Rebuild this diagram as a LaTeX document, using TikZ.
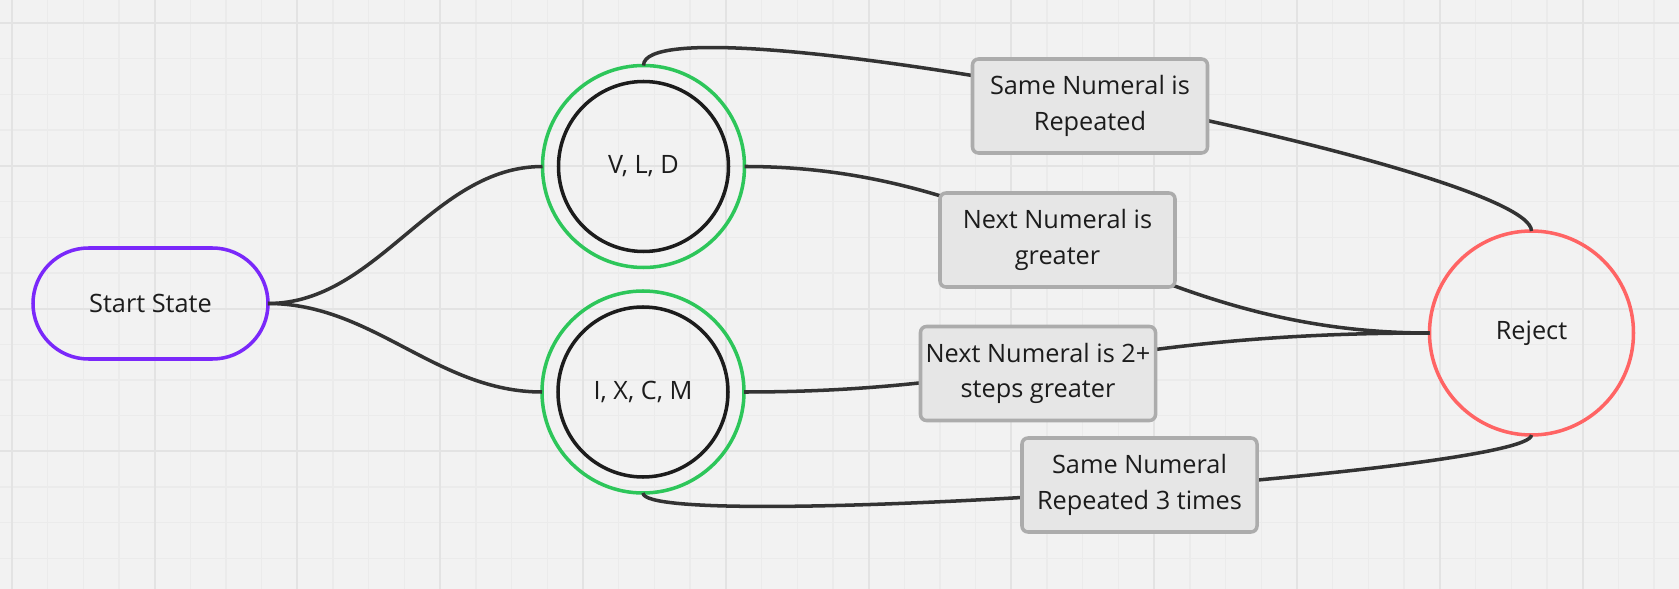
\documentclass[tikz,border=0pt]{standalone}
\usepackage{fontspec}
\setmainfont{Open Sans}

\definecolor{paper}{RGB}{242,242,242}
\definecolor{minorgrid}{RGB}{235,235,235}
\definecolor{majorgrid}{RGB}{227,227,227}
\definecolor{accgreen}{RGB}{45,198,90}
\definecolor{rejred}{RGB}{255,100,100}
\definecolor{startpurple}{RGB}{122,40,250}
\definecolor{wire}{RGB}{51,51,51}
\definecolor{boxfill}{RGB}{230,230,230}
\definecolor{boxline}{RGB}{172,172,172}
\definecolor{ink}{RGB}{28,28,28}

\tikzset{
	txt/.style = {font = \fontsize{7.2pt}{10.2pt}\selectfont, text = ink},
	startstate/.style = {txt, rectangle, rounded corners = 0.555cm, draw = startpurple, line width = 1pt, minimum width = 2.35cm, minimum height = 1.11cm, outer sep = 0pt},
	accring/.style = {circle, draw = accgreen, line width = 1pt, minimum size = 2.02cm, inner sep = 0pt, outer sep = 0pt},
	state/.style = {txt, circle, draw = ink, line width = 1pt, minimum size = 1.70cm, inner sep = 0pt, outer sep = 0pt},
	reject/.style = {txt, circle, draw = rejred, line width = 1pt, minimum size = 2.04cm, inner sep = 0pt, outer sep = 0pt},
	cond/.style = {txt, rectangle, rounded corners = 0.06cm, fill = boxfill, draw = boxline, line width = 1pt, minimum width = 2.35cm, minimum height = 0.94cm, inner sep = 1pt, align = center},
	wirestyle/.style = {draw = wire, line width = 1pt},
	minorline/.style = {minorgrid, line width = 0.35pt},
	majorline/.style = {majorgrid, line width = 0.6pt}
}

\begin{document}
\begin{tikzpicture}
	\useasboundingbox (0, 0) rectangle (16.79, -5.89);
	\fill[paper] (0, 0) rectangle (16.79, -5.89);

	% grid
	\foreach \i in {0, ..., 46}
	\draw[minorline] ({0.118 + 0.357 * \i}, 0) -- ({0.118 + 0.357 * \i}, -5.89);
	\foreach \j in {0, ..., 15}
	\draw[minorline] (0, {-0.23 - 0.357 * \j}) -- (16.79, {-0.23 - 0.357 * \j});
	\foreach \i in {0, 4, ..., 44}
	\draw[majorline] ({0.118 + 0.357 * \i}, 0) -- ({0.118 + 0.357 * \i}, -5.89);
	\foreach \j in {0, 4, ..., 12}
	\draw[majorline] (0, {-0.23 - 0.357 * \j}) -- (16.79, {-0.23 - 0.357 * \j});

	% states
	\node[startstate] (start) at (1.505, -3.035) {Start State};
	\node[accring] (vld) at (6.435, -1.665) {};
	\node[state] (vldin) at (vld) {V, L, D};
	\node[accring] (ixcm) at (6.43, -3.92) {};
	\node[state] (ixcmin) at (ixcm) {I, X, C, M};
	\node[reject] (rej) at (15.315, -3.33) {Reject};

	% connectors
	\draw[wirestyle] (start.east) .. controls +(1.1, 0) and +(-1.1, 0) .. (vld.west);
	\draw[wirestyle] (start.east) .. controls +(1.05, 0) and +(-1.05, 0) .. (ixcm.west);
	\draw[wirestyle] (vld.north) .. controls +(0, 0.74) and +(0, 0.655) .. (rej.north);
	\draw[wirestyle] (vld.east) .. controls +(2.8, 0) and +(-2.9, 0) .. (rej.west);
	\draw[wirestyle] (ixcm.east) .. controls +(2.77, 0) and +(-3.34, 0) .. (rej.west);
	\draw[wirestyle] (ixcm.south) .. controls +(0, -0.406) and +(0, -0.378) .. (rej.south);

	% conditions
	\node[cond] (same) at (10.90, -1.06) {Same Numeral is\\Repeated};
	\node[cond] (next) at (10.575, -2.40) {Next Numeral is\\greater};
	\node[cond] (twoplus) at (10.38, -3.735) {Next Numeral is 2+\\steps greater};
	\node[cond] (thrice) at (11.395, -4.85) {Same Numeral\\Repeated 3 times};
\end{tikzpicture}
\end{document}
